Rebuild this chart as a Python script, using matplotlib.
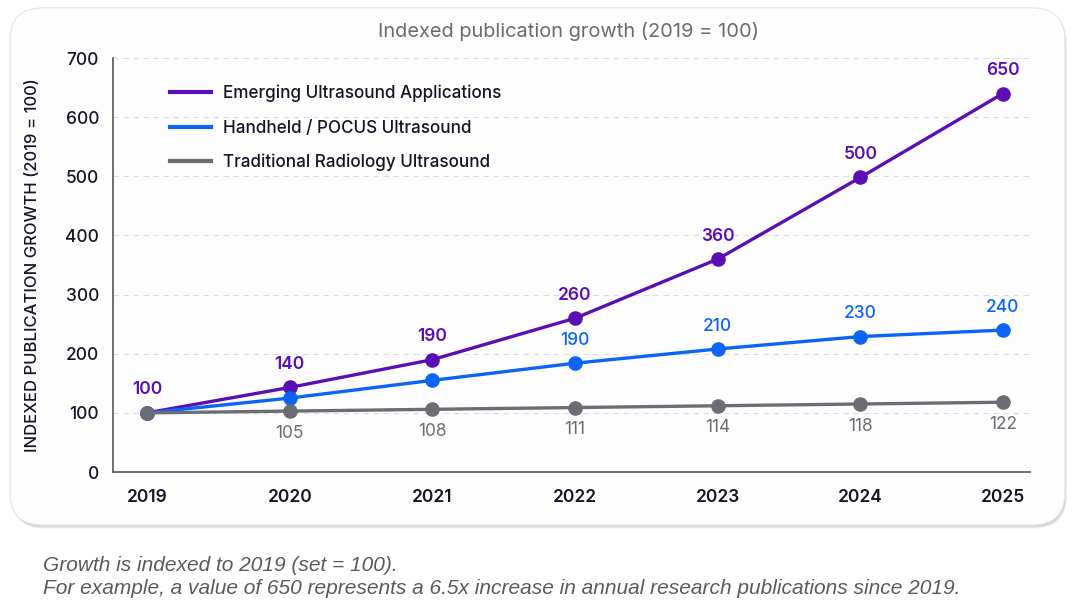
import numpy as np
import matplotlib
matplotlib.use("Agg")
import matplotlib.pyplot as plt
from matplotlib.patches import FancyBboxPatch

plt.rcParams['font.family'] = ['Inter', 'DejaVu Sans']

years = [2019, 2020, 2021, 2022, 2023, 2024, 2025]
emerging = [100, 143, 190, 260, 360, 498, 640]
handheld = [100, 125, 155, 184, 208, 229, 240]
traditional = [100, 103, 106, 109, 112, 115, 118]

emerging_labels = ["100", "140", "190", "260", "360", "500", "650"]
handheld_labels = ["", "", "", "190", "210", "230", "240"]
traditional_labels = ["", "105", "108", "111", "114", "118", "122"]

c_emerging = "#5a0fb4"
c_handheld = "#0a64f5"
c_trad = "#6c6c74"

fig = plt.figure(figsize=(10.8, 6.07), dpi=100)
fig.patch.set_facecolor("white")

# card with soft shadow
for i, a in enumerate([0.05, 0.05, 0.06, 0.07]):
    d = (4 - i) * 0.0015
    sh = FancyBboxPatch((0.0093 + d * 0.3, 0.135 - d), 0.9767, 0.852,
                        boxstyle="round,pad=0,rounding_size=0.03",
                        transform=fig.transFigure, facecolor="#000000",
                        edgecolor="none", alpha=a, zorder=0,
                        mutation_aspect=1080 / 607)
    fig.patches.append(sh)
card = FancyBboxPatch((0.0093, 0.135), 0.9767, 0.852,
                      boxstyle="round,pad=0,rounding_size=0.03",
                      transform=fig.transFigure, facecolor="#fdfdfe",
                      edgecolor="#e6e6ea", lw=0.8, zorder=1,
                      mutation_aspect=1080 / 607)
fig.patches.append(card)

ax = fig.add_axes([0.1046, 0.2224, 0.8491, 0.682])
ax.set_facecolor("none")
ax.set_zorder(2)

ax.plot(years, emerging, color=c_emerging, lw=2.4, marker="o", ms=9.5,
        label="Emerging Ultrasound Applications", zorder=3)
ax.plot(years, handheld, color=c_handheld, lw=2.4, marker="o", ms=9.5,
        label="Handheld / POCUS Ultrasound", zorder=4)
ax.plot(years, traditional, color=c_trad, lw=2.4, marker="o", ms=9.5,
        label="Traditional Radiology Ultrasound", zorder=5)

for x, y, t in zip(years, emerging, emerging_labels):
    if t:
        ax.annotate(t, (x, y), xytext=(0, 16.5), textcoords="offset points",
                    ha="center", va="center", color=c_emerging,
                    fontsize=12.5, fontweight="semibold")
for x, y, t in zip(years, handheld, handheld_labels):
    if t:
        ax.annotate(t, (x, y), xytext=(0, 16.5), textcoords="offset points",
                    ha="center", va="center", color=c_handheld,
                    fontsize=12.5, fontweight="medium")
for x, y, t in zip(years, traditional, traditional_labels):
    if t:
        ax.annotate(t, (x, y), xytext=(0, -16), textcoords="offset points",
                    ha="center", va="center", color=c_trad, fontsize=12.5)

ax.set_xlim(2019 - 0.24, 2025 + 0.19)
ax.set_ylim(0, 700)
ax.set_xticks(years)
ax.set_xticklabels([str(y) for y in years], fontsize=12.5, fontweight="semibold",
                   color="#15152a")
ax.set_yticks(range(0, 701, 100))
ax.set_yticklabels([str(v) for v in range(0, 701, 100)], fontsize=12.5,
                   fontweight="medium", color="#15152a")
ax.tick_params(length=0, pad=10)
ax.tick_params(axis="x", pad=12)

for v in range(100, 701, 100):
    ax.axhline(v, color="#dcdce2", lw=0.8, ls=(0, (5, 4)), zorder=1)

for s in ["top", "right"]:
    ax.spines[s].set_visible(False)
ax.spines["left"].set_color("#55555c")
ax.spines["bottom"].set_color("#55555c")
ax.spines["left"].set_linewidth(1.2)
ax.spines["bottom"].set_linewidth(1.2)

ax.set_ylabel("INDEXED PUBLICATION GROWTH (2019 = 100)", fontsize=12,
              fontweight="medium", color="#15152a", labelpad=18)

leg = ax.legend(loc="upper left", bbox_to_anchor=(0.045, 0.973), frameon=False,
                fontsize=12.3, handlelength=2.45, handletextpad=0.7,
                labelspacing=1.02, markerscale=0)
for h in leg.legend_handles:
    h.set_marker("")
    h.set_linewidth(3)
for t in leg.get_texts():
    t.set_color("#15152a")
    t.set_fontweight("medium")

fig.text(0.526, 0.948, "Indexed publication growth (2019 = 100)", ha="center",
         va="center", fontsize=14.4, color="#6a6a72")

fig.text(0.04, 0.069, "Growth is indexed to 2019 (set = 100).",
         family="Liberation Sans", style="italic", fontsize=15,
         color="#5a5a5a", va="center")
fig.text(0.04, 0.030,
         "For example, a value of 650 represents a 6.5x increase in annual "
         "research publications since 2019.",
         family="Liberation Sans", style="italic", fontsize=15,
         color="#5a5a5a", va="center")

fig.savefig("out.png", dpi=100)
